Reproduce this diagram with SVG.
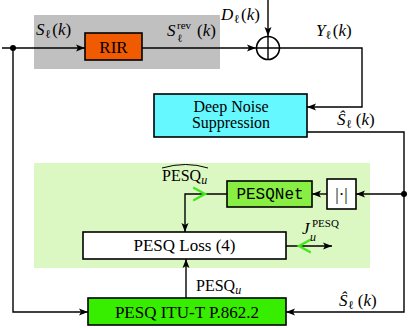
<svg xmlns="http://www.w3.org/2000/svg" width="408" height="328" viewBox="0 0 408 328">
<style>
text{font-family:"Liberation Serif","Times New Roman",serif;fill:#000}
.m{font-size:17px}
.i{font-style:italic}
.box{stroke:#000;stroke-width:1.6}
.ln{fill:none;stroke:#000;stroke-width:1.4}
.gc{fill:none;stroke:#44e61e;stroke-width:2.4;stroke-linecap:round}
</style>
<defs>
<marker id="ah" markerWidth="10" markerHeight="8" refX="9" refY="4" orient="auto" markerUnits="userSpaceOnUse">
<path d="M0,0.5 L9,4 L0,7.5 L2,4 Z" fill="#000"/>
</marker>
</defs>
<rect x="0" y="0" width="408" height="328" fill="#fff"/>
<rect x="34" y="15" width="186" height="54" fill="#c0c0c0"/>
<rect x="34" y="163" width="336" height="105" fill="#dcf8c2"/>

<g id="connectors">
<path class="ln" d="M2,48 H85" marker-end="url(#ah)"/>
<path class="ln" d="M142,48 H256" marker-end="url(#ah)"/>
<path class="ln" d="M268,0 V36" marker-end="url(#ah)"/>
<path class="ln" d="M280,48 H362 V107 H307" marker-end="url(#ah)"/>
<path class="ln" d="M13,48 V312 H88" marker-end="url(#ah)"/>
<path class="ln" d="M307,132 H404 V312 H286" marker-end="url(#ah)"/>
<path class="ln" d="M404,194 H356" marker-end="url(#ah)"/>
<path class="ln" d="M327,194 H312" marker-end="url(#ah)"/>
<path class="ln" d="M227,194 H185 V232" marker-end="url(#ah)"/>
<path class="ln" d="M186,298 V259" marker-end="url(#ah)"/>
<path class="ln" d="M286,246 H332" marker-end="url(#ah)"/>
<circle cx="13" cy="48" r="3" fill="#000"/>
<circle cx="404" cy="194" r="3" fill="#000"/>
<path class="gc" d="M194,188 L205,194 L194,200"/>
<path class="gc" d="M310,240 L299,246 L310,252"/>
</g>

<g id="rir">
<rect class="box" x="85" y="33" width="57" height="27" fill="#f05a00"/>
<text x="113.5" y="53" font-size="17" text-anchor="middle">RIR</text>
</g>

<g id="sum">
<circle cx="268" cy="48" r="11.5" fill="#fff" stroke="#000" stroke-width="1.6"/>
<path class="ln" d="M256.5,48 H279.5 M268,36.5 V59.5"/>
</g>

<g id="dns">
<rect class="box" x="154" y="94" width="153" height="43" fill="#66f8ff"/>
<text x="231" y="112" font-size="16" text-anchor="middle">Deep Noise</text>
<text x="231" y="128" font-size="16" text-anchor="middle">Suppression</text>
</g>

<g id="abs">
<rect class="box" x="327" y="179" width="29" height="30" fill="#fff"/>
<text x="341.5" y="200" font-size="17" text-anchor="middle">|·|</text>
</g>

<g id="pesqnet">
<rect class="box" x="227" y="181" width="85" height="26" fill="#88ee44"/>
<text x="270" y="199" font-size="16" text-anchor="middle" style="font-family:'Liberation Mono','Courier New',monospace">PESQNet</text>
</g>

<g id="loss">
<rect class="box" x="83" y="232" width="203" height="27" fill="#fff"/>
<text x="184.5" y="251" font-size="17" text-anchor="middle">PESQ Loss (4)</text>
</g>

<g id="itu">
<rect class="box" x="88" y="298" width="198" height="27" fill="#38ee00"/>
<text x="187" y="317.5" font-size="17" text-anchor="middle">PESQ ITU-T P.862.2</text>
</g>

<g id="labels">
<text class="m" x="36" y="35"><tspan class="i">S</tspan><tspan font-size="12" dy="3" dx="0.5">ℓ</tspan><tspan dy="-3" dx="1.5">(</tspan><tspan class="i">k</tspan><tspan>)</tspan></text>
<text class="m" x="167" y="36"><tspan class="i">S</tspan><tspan font-size="11" x="177" y="42">ℓ</tspan><tspan font-size="11" x="177" y="28.5">rev</tspan><tspan x="197" y="36">(</tspan><tspan class="i">k</tspan><tspan>)</tspan></text>
<text class="m" x="221" y="20"><tspan class="i">D</tspan><tspan font-size="12" dy="3" dx="0.5">ℓ</tspan><tspan dy="-3" dx="1.5">(</tspan><tspan class="i">k</tspan><tspan>)</tspan></text>
<text class="m" x="316" y="36"><tspan class="i">Y</tspan><tspan font-size="12" dy="3" dx="0">ℓ</tspan><tspan dy="-3" dx="1.5">(</tspan><tspan class="i">k</tspan><tspan>)</tspan></text>
<text class="m" x="337" y="125"><tspan class="i">Ŝ</tspan><tspan font-size="12" dy="3" dx="0.5">ℓ</tspan><tspan dy="-3" dx="4">(</tspan><tspan class="i">k</tspan><tspan>)</tspan></text>
<text class="m" x="339" y="306"><tspan class="i">Ŝ</tspan><tspan font-size="12" dy="3" dx="0.5">ℓ</tspan><tspan dy="-3" dx="4">(</tspan><tspan class="i">k</tspan><tspan>)</tspan></text>
<text font-size="16" x="162" y="181">PESQ<tspan class="i" font-size="12" dy="3">u</tspan></text>
<path d="M162,168 Q186,161 208,168" fill="none" stroke="#000" stroke-width="1"/>
<text font-size="16" x="196" y="291">PESQ<tspan class="i" font-size="12" dy="3">u</tspan></text>
<text x="302" y="234"><tspan class="i" font-size="17">J</tspan><tspan class="i" font-size="12" x="310" y="241">u</tspan><tspan font-size="11" x="312" y="227">PESQ</tspan></text>
</g>
</svg>
